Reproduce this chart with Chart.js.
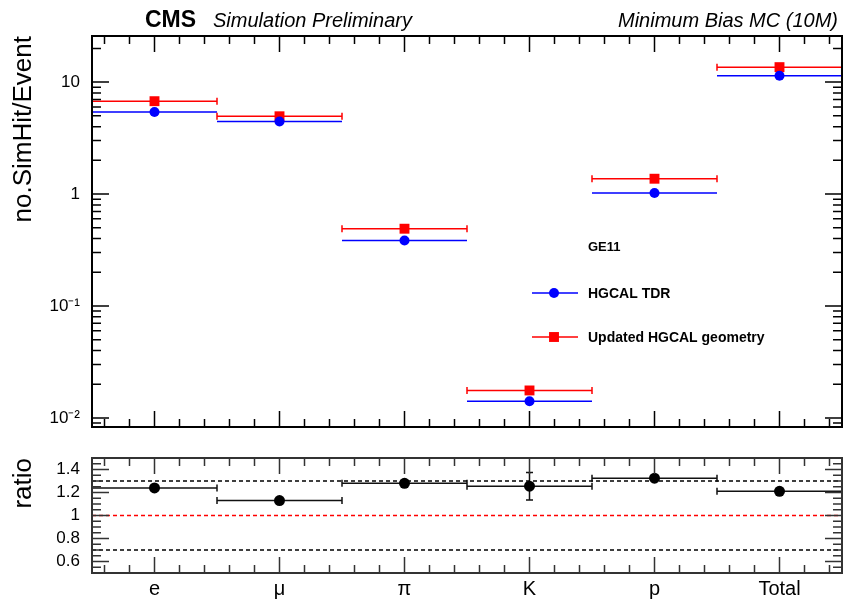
<!DOCTYPE html>
<html lang="en">
<head>
<meta charset="UTF-8">
<title>SimHits per event</title>
<script src="https://cdn.jsdelivr.net/npm/chart.js"></script>
<style>
  body { margin: 0; background: #fff; }
  #wrap { position: relative; width: 845px; height: 601px; }
  #main { position: absolute; left: 0; top: 0; }
  #ratio { position: absolute; left: 0; top: 440px; }
</style>
</head>
<body>
<div id="wrap">
  <canvas id="main" width="845" height="440"></canvas>
  <canvas id="ratio" width="845" height="161"></canvas>
</div>
<script>
// values
const particles = ['e', 'μ', 'π', 'K', 'p', 'Total'];
const hgcalTDR = [5.4, 4.45, 0.385, 0.0141, 1.02, 11.4];
const hgcalUpdated = [6.75, 4.95, 0.49, 0.0176, 1.37, 13.6];
const ratioVals = [1.24, 1.13, 1.28, 1.255, 1.325, 1.21];
const ratioErr = [0.01, 0.01, 0.01, 0.12, 0.012, 0.005];
const decadeTicks = [0.01, 0.1, 1, 10];
const decadeLabels = ['10⁻²', '10⁻¹', '1', '10'];
const ratioTicks = [0.6, 0.8, 1.0, 1.2, 1.4];
const ratioLabels = ['0.6', '0.8', '1', '1.2', '1.4'];
const refLines = [1.3, 1.0, 0.7];
const refColors = ['#000', '#ff0000', '#000'];

const FONT = '"Liberation Sans", Arial, Helvetica, sans-serif';
Chart.defaults.font.family = FONT;
Chart.defaults.color = '#000';

const pts = vals => vals.map((v, i) => ({ x: i + 0.5, y: v }));

// keep the plot frame where it is in the original, no auto padding from labels
function fixWidth(s) {
  s.width = 92;
  s.paddingTop = 0; s.paddingBottom = 0;
}
function fixHeight(s) {
  s.height = 28;
  s.paddingLeft = 0; s.paddingRight = 0;
}

// inward ROOT-style ticks on all four sides + frame
function frameTicks(chart, yMinor, yMajor, frameColor) {
  const { ctx, chartArea: a } = chart;
  const xs = chart.scales.x, ys = chart.scales.y;
  ctx.save();
  ctx.strokeStyle = frameColor;
  ctx.lineWidth = 1.5;
  ctx.beginPath();
  for (let k = 0; k < 30; k++) {
    const px = xs.getPixelForValue(0.1 + k * 0.2);
    const len = k % 5 === 2 ? 16 : 8;
    ctx.moveTo(px, a.bottom); ctx.lineTo(px, a.bottom - len);
    ctx.moveTo(px, a.top); ctx.lineTo(px, a.top + len);
  }
  yMinor.forEach(v => {
    const py = ys.getPixelForValue(v);
    const len = yMajor.some(m => Math.abs(m - v) < 1e-9) ? 17 : 9;
    ctx.moveTo(a.left, py); ctx.lineTo(a.left + len, py);
    ctx.moveTo(a.right, py); ctx.lineTo(a.right - len, py);
  });
  ctx.stroke();
  ctx.lineWidth = 2;
  ctx.strokeRect(a.left, a.top, a.right - a.left, a.bottom - a.top);
  ctx.restore();
}

// horizontal (bin width) and vertical error bars
const errorBars = {
  id: 'errorBars',
  beforeDatasetsDraw(chart) {
    const { ctx } = chart;
    const xs = chart.scales.x, ys = chart.scales.y;
    chart.data.datasets.forEach(ds => {
      ctx.save();
      ctx.strokeStyle = ds.barColor;
      ctx.lineWidth = 1.5;
      ctx.beginPath();
      ds.data.forEach((p, i) => {
        const x0 = xs.getPixelForValue(p.x - 0.5), x1 = xs.getPixelForValue(p.x + 0.5);
        const py = ys.getPixelForValue(p.y);
        ctx.moveTo(x0, py); ctx.lineTo(x1, py);
        if (ds.caps) {
          ctx.moveTo(x0, py - 3.5); ctx.lineTo(x0, py + 3.5);
          ctx.moveTo(x1, py - 3.5); ctx.lineTo(x1, py + 3.5);
        }
        if (ds.yErr) {
          const px = xs.getPixelForValue(p.x);
          const y0 = ys.getPixelForValue(p.y - ds.yErr[i]), y1 = ys.getPixelForValue(p.y + ds.yErr[i]);
          ctx.moveTo(px, y0); ctx.lineTo(px, y1);
          ctx.moveTo(px - 3.5, y0); ctx.lineTo(px + 3.5, y0);
          ctx.moveTo(px - 3.5, y1); ctx.lineTo(px + 3.5, y1);
        }
      });
      ctx.stroke();
      ctx.restore();
    });
  }
};

const logMinor = [];
[0.001, 0.01, 0.1, 1, 10].forEach(d => {
  for (let m = 1; m <= 9; m++) {
    const v = m * d;
    if (v > 0.0083 && v < 25.8) logMinor.push(v);
  }
});

const mainDeco = {
  id: 'mainDeco',
  afterDraw(chart) {
    frameTicks(chart, logMinor, decadeTicks, '#000');
    const { ctx } = chart;
    ctx.save();
    ctx.fillStyle = '#000';
    ctx.textBaseline = 'alphabetic';
    ctx.font = 'bold 23px ' + FONT;
    ctx.fillText('CMS', 145, 27);
    ctx.font = 'italic 20px ' + FONT;
    ctx.fillText('Simulation Preliminary', 213, 27);
    ctx.textAlign = 'right';
    ctx.fillText('Minimum Bias MC (10M)', 838, 27);
    // legend
    ctx.textAlign = 'left';
    ctx.textBaseline = 'middle';
    ctx.font = 'bold 13px ' + FONT;
    ctx.fillText('GE11', 588, 247);
    const rows = [293, 337];
    chart.data.datasets.forEach((ds, i) => {
      const y = rows[i];
      ctx.strokeStyle = ds.barColor;
      ctx.lineWidth = 1.5;
      ctx.beginPath(); ctx.moveTo(532, y); ctx.lineTo(578, y); ctx.stroke();
      ctx.fillStyle = ds.backgroundColor;
      Chart.helpers.drawPoint(ctx, { pointStyle: ds.pointStyle, radius: ds.pointRadius, rotation: 0, borderWidth: 0 }, 554, y);
      ctx.fillStyle = '#000';
      ctx.font = 'bold 14px ' + FONT;
      ctx.fillText(ds.label, 588, y + 1);
    });
    ctx.restore();
  }
};

new Chart(document.getElementById('main'), {
  type: 'scatter',
  data: {
    datasets: [
      { label: 'HGCAL TDR', data: pts(hgcalTDR), pointStyle: 'circle', pointRadius: 5,
        backgroundColor: '#0000ff', borderWidth: 0, barColor: '#0000ff', caps: false },
      { label: 'Updated HGCAL geometry', data: pts(hgcalUpdated), pointStyle: 'rect', pointRadius: 7,
        backgroundColor: '#ff0000', borderWidth: 0, barColor: '#ff0000', caps: true }
    ]
  },
  options: {
    responsive: false,
    animation: false,
    layout: { autoPadding: false, padding: { top: 36, right: 3, bottom: 13, left: 0 } },
    plugins: { legend: { display: false }, tooltip: { enabled: false } },
    elements: { point: { hoverRadius: 5 } },
    scales: {
      x: { type: 'linear', min: 0, max: 6, bounds: 'data', display: false },
      y: {
        type: 'logarithmic', min: 0.0083, max: 25.8, bounds: 'data',
        afterFit: fixWidth,
        afterBuildTicks: s => { s.ticks = decadeTicks.map(v => ({ value: v })); },
        grid: { display: false, drawTicks: false },
        border: { display: false },
        ticks: { autoSkip: false, padding: 12, font: { size: 17 },
                 callback: (v, i) => decadeLabels[i] },
        title: { display: true, text: 'no.SimHit/Event', align: 'end',
                 font: { size: 26 }, padding: { top: 8 } }
      }
    }
  },
  plugins: [errorBars, mainDeco]
});

const ratioMinor = [];
for (let k = 1; k < 20; k++) ratioMinor.push(+(0.5 + k * 0.05).toFixed(2));

const ratioDeco = {
  id: 'ratioDeco',
  beforeDatasetsDraw(chart) {
    const { ctx, chartArea: a } = chart;
    const ys = chart.scales.y;
    ctx.save();
    ctx.lineWidth = 1.5;
    ctx.setLineDash([4, 3]);
    refLines.forEach((v, i) => {
      const py = ys.getPixelForValue(v);
      ctx.strokeStyle = refColors[i];
      ctx.beginPath(); ctx.moveTo(a.left, py); ctx.lineTo(a.right, py); ctx.stroke();
    });
    ctx.restore();
  },
  afterDraw(chart) {
    frameTicks(chart, ratioMinor, ratioTicks, '#333');
  }
};

new Chart(document.getElementById('ratio'), {
  type: 'scatter',
  data: {
    datasets: [
      { label: 'ratio', data: pts(ratioVals), pointStyle: 'circle', pointRadius: 5.5,
        backgroundColor: '#000', borderWidth: 0, barColor: '#111', caps: true, yErr: ratioErr }
    ]
  },
  options: {
    responsive: false,
    animation: false,
    layout: { autoPadding: false, padding: { top: 18, right: 3, bottom: 0, left: 0 } },
    plugins: { legend: { display: false }, tooltip: { enabled: false } },
    scales: {
      x: {
        type: 'linear', min: 0, max: 6, bounds: 'data',
        afterFit: fixHeight,
        afterBuildTicks: s => { s.ticks = particles.map((p, i) => ({ value: i + 0.5 })); },
        grid: { display: false, drawTicks: false },
        border: { display: false },
        ticks: { autoSkip: false, maxRotation: 0, padding: 4, font: { size: 20 },
                 callback: (v, i) => particles[i] }
      },
      y: {
        type: 'linear', min: 0.5, max: 1.5, bounds: 'data',
        afterFit: fixWidth,
        afterBuildTicks: s => { s.ticks = ratioTicks.map(v => ({ value: v })); },
        grid: { display: false, drawTicks: false },
        border: { display: false },
        ticks: { autoSkip: false, padding: 12, font: { size: 17 },
                 callback: (v, i) => ratioLabels[i] },
        title: { display: true, text: 'ratio', align: 'end',
                 font: { size: 26 }, padding: { top: 8 } }
      }
    }
  },
  plugins: [errorBars, ratioDeco]
});
</script>
</body>
</html>
